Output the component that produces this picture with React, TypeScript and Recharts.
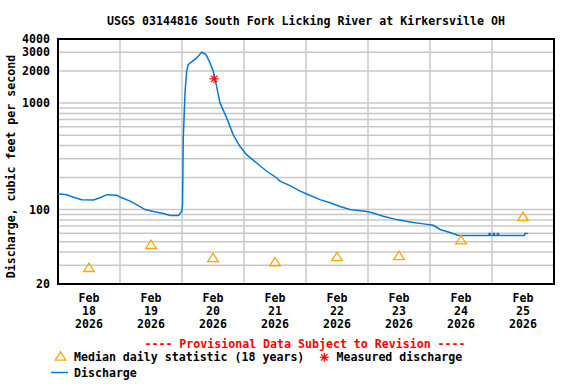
import {
  ComposedChart,
  Line,
  Scatter,
  XAxis,
  YAxis,
  CartesianGrid,
  ReferenceArea,
} from "recharts";

// hours since Feb 18 00:00, and discharge (ft3/s)
const dischargeHours = [
  0, 3.4, 6.6, 9.2, 13.7, 16.3, 18.9, 22.7, 24.7, 27.9, 31.1, 33.7, 36.9, 40.8, 43.4, 46.6, 47.9, 48.2,
  48.4, 48.5, 49.2, 49.8, 50.4, 51.7, 53.7, 55.6, 57.3, 58.8, 60.1, 61.4, 62.7, 65.3, 67.8, 70.4, 73.0,
  76.9, 80.8, 84.7, 85.9, 89.8, 93.7, 96.3, 101.4, 105.3, 109.2, 113.0, 119.5, 122.0, 125.9, 131.1,
  136.3, 141.4, 145.3, 147.9, 151.7, 155.0,
  166.8, 166.9, 167.3, 167.4, 168.4, 168.5, 168.9, 169.0, 170.0, 170.1, 170.5, 170.6,
  180.6, 180.7, 182.0,
];
const dischargeCfs = [
  141, 138, 129, 124, 123, 129, 138, 136, 129, 120, 109, 100, 96, 92, 88, 88, 96, 111,
  300, 474, 1291, 1990, 2300, 2437, 2657, 3000, 2851, 2400, 1990, 1438, 1004, 726, 506, 393, 328,
  274, 229, 198, 185, 168, 149, 140, 124, 116, 107, 100, 96, 93, 86.5, 80.5,
  76.6, 73.4, 71.2, 65, 61, 57,
  57, 59.5, 59.5, 57, 57, 59.5, 59.5, 57, 57, 59.5, 59.5, 57,
  57, 59.5, 59.5,
];

const medianHours = [12, 36, 60, 84, 108, 132, 156, 180];
const medianCfs = [28.7, 47.2, 35.5, 32.5, 36.3, 37.1, 52.1, 86.1];

const measuredHours = [60.4];
const measuredCfs = [1690];

const dayLabels = ["18", "19", "20", "21", "22", "23", "24", "25"];
const monthLabel = "Feb";
const yearLabel = "2026";
const midnightHours = [24, 48, 72, 96, 120, 144, 168];

const yGridValues = [30, 40, 50, 60, 70, 80, 90, 100, 200, 300, 400, 500, 600, 700, 800, 900, 1000, 2000, 3000];
const yLabelValues = [20, 100, 1000, 2000, 3000, 4000];

const FONT = "DejaVu Sans Mono, monospace";
const FS = 11.6;
const BLUE = "#0a78cc";
const ORANGE = "#ffa500";
const RED = "#ff0000";

const dischargeData = dischargeHours.map((h, i) => ({ h, v: dischargeCfs[i] }));
const medianData = medianHours.map((h, i) => ({ h, v: medianCfs[i] }));
const measuredData = measuredHours.map((h, i) => ({ h, v: measuredCfs[i] }));

function Triangle({ cx, cy }: { cx: number; cy: number }) {
  return (
    <polygon
      points={`${cx},${cy - 4.2} ${cx - 5.3},${cy + 4.2} ${cx + 5.3},${cy + 4.2}`}
      fill="none"
      stroke={ORANGE}
      strokeWidth={1.3}
    />
  );
}

function Star({ cx, cy }: { cx: number; cy: number }) {
  const r = 4.5;
  const d = r * 0.72;
  return (
    <g stroke={RED} strokeWidth={1.2}>
      <line x1={cx - r} y1={cy} x2={cx + r} y2={cy} />
      <line x1={cx} y1={cy - r} x2={cx} y2={cy + r} />
      <line x1={cx - d} y1={cy - d} x2={cx + d} y2={cy + d} />
      <line x1={cx - d} y1={cy + d} x2={cx + d} y2={cy - d} />
    </g>
  );
}

function DateTick(props: any) {
  const { x, y, payload } = props;
  const idx = medianHours.indexOf(payload.value);
  return (
    <text x={x} textAnchor="middle" fontFamily={FONT} fontSize={FS} fontWeight="bold" fill="#000">
      <tspan x={x} y={y + 18.3}>{monthLabel}</tspan>
      <tspan x={x} y={y + 31}>{dayLabels[idx]}</tspan>
      <tspan x={x} y={y + 44.3}>{yearLabel}</tspan>
    </text>
  );
}

const textStyle = { fontFamily: FONT, fontSize: FS, fontWeight: "bold" as const };

export default function App() {
  return (
    <div style={{ position: "absolute", left: 0, top: 0, width: 576, height: 384, background: "#fff" }}>
      <ComposedChart
        width={576}
        height={384}
        margin={{ top: 39, right: 22, left: 0, bottom: 50 }}
      >
        <CartesianGrid
          stroke="#c8c8c8"
          strokeWidth={1.5}
          horizontalValues={yGridValues}
          verticalValues={midnightHours}
        />
        <XAxis
          type="number"
          dataKey="h"
          domain={[0, 192]}
          allowDataOverflow
          ticks={medianHours}
          tick={<DateTick />}
          tickLine={false}
          axisLine={false}
          height={50}
          tickSize={0}
          tickMargin={0}
          interval={0}
        />
        <YAxis
          type="number"
          scale="log"
          domain={[20, 4000]}
          allowDataOverflow
          ticks={[...yLabelValues]}
          tickFormatter={(v: number) => String(v)}
          width={58}
          tickLine={false}
          axisLine={false}
          tickSize={0}
          tickMargin={8}
          interval={0}
          tick={{ fill: "#000", ...textStyle }}
        />
        <Line
          data={dischargeData}
          dataKey="v"
          type="linear"
          stroke={BLUE}
          strokeWidth={1.5}
          dot={false}
          isAnimationActive={false}
        />
        <Scatter data={medianData} dataKey="v" shape={(p: any) => <Triangle cx={p.cx} cy={p.cy} />} isAnimationActive={false} />
        <Scatter data={measuredData} dataKey="v" shape={(p: any) => <Star cx={p.cx} cy={p.cy} />} isAnimationActive={false} />
        <ReferenceArea x1={0} x2={192} y1={20} y2={4000} fill="none" stroke="#000" strokeWidth={2} ifOverflow="visible" />
      </ComposedChart>
      <svg
        width={576}
        height={384}
        style={{ position: "absolute", left: 0, top: 0, pointerEvents: "none" }}
      >
        <text x={306} y={25} textAnchor="middle" {...textStyle} fill="#000">
          USGS 03144816 South Fork Licking River at Kirkersville OH
        </text>
        <text x={15} y={166.5} textAnchor="middle" transform="rotate(-90, 15, 166.5)" {...textStyle} fill="#000">
          Discharge, cubic feet per second
        </text>
        <text x={305} y={347.8} textAnchor="middle" {...textStyle} fill={RED}>
          ---- Provisional Data Subject to Revision ----
        </text>
        <Triangle cx={60.5} cy={356} />
        <text x={74} y={360.7} {...textStyle} fill="#000">
          Median daily statistic (18 years)
        </text>
        <Star cx={324.3} cy={357.3} />
        <text x={336.5} y={360.7} {...textStyle} fill="#000">
          Measured discharge
        </text>
        <line x1={51} y1={372.5} x2={68} y2={372.5} stroke={BLUE} strokeWidth={1.5} />
        <text x={74} y={376.7} {...textStyle} fill="#000">
          Discharge
        </text>
      </svg>
    </div>
  );
}
